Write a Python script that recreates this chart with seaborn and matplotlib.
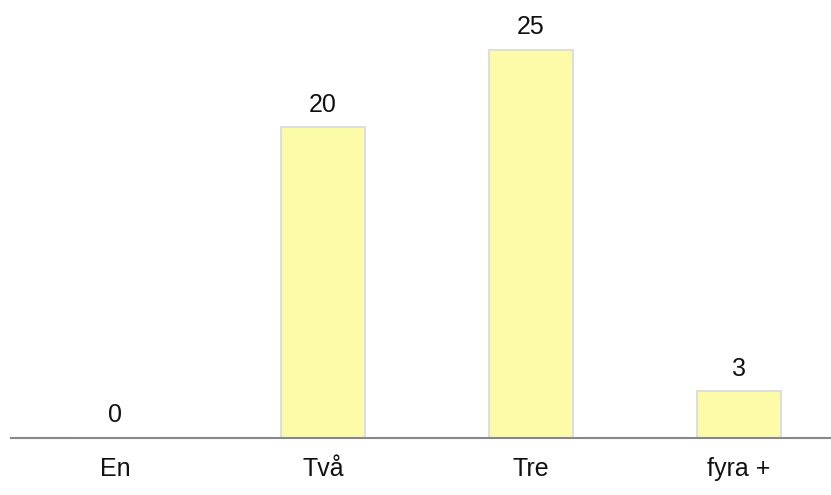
import seaborn as sns
import matplotlib.pyplot as plt
import pandas as pd

categories = ["En", "Två", "Tre", "fyra +"]
counts = [0, 20, 25, 3]

sns.set_style("white")
plt.rcParams['font.family'] = ['Liberation Sans', 'DejaVu Sans']

df = pd.DataFrame({"kategori": categories, "antal": counts})

fig = plt.figure(figsize=(8.31, 4.95), dpi=100)
# axes runs a little past the right edge, like the original
ax = fig.add_axes([11 / 831, 57 / 495, 832 / 831, 438 / 495])

sns.barplot(data=df, x="kategori", y="antal", color="#fcfca8", saturation=1,
            width=0.4, edgecolor="#dedede", linewidth=1.5, ax=ax)

for i, v in enumerate(counts):
    ax.text(i, v + 1.02, str(v), ha="center", va="baseline", fontsize=18, color="#111111")

ax.set_xlim(-0.5, 3.5)
ax.set_ylim(0, 28.2)
ax.set(xlabel="", ylabel="")
ax.set_yticks([])
ax.tick_params(axis="x", length=0, pad=14, labelsize=18, labelcolor="#111111")
for s in ["top", "right", "left"]:
    ax.spines[s].set_visible(False)
ax.spines["bottom"].set_color("#888888")
ax.spines["bottom"].set_linewidth(1.5)
ax.patch.set_alpha(0)

fig.savefig("out.png", dpi=100)
